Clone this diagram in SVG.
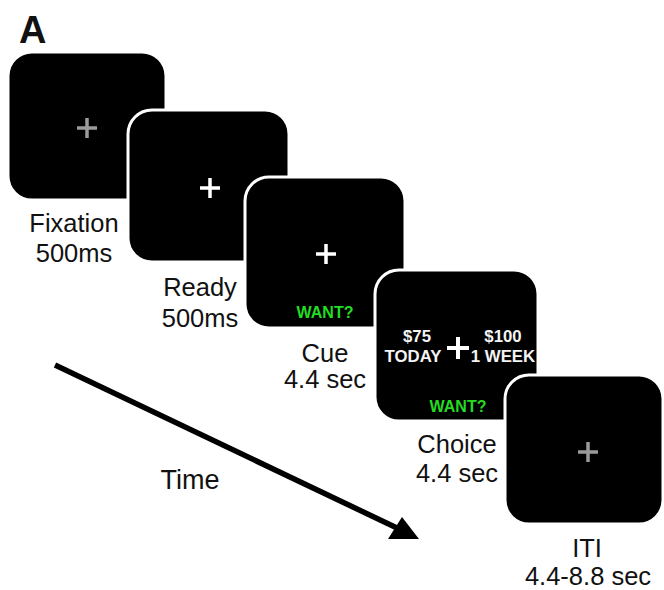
<svg xmlns="http://www.w3.org/2000/svg" width="664" height="590" viewBox="0 0 664 590">
<style>
.scr{fill:#000;stroke:#fff;stroke-width:3}
.lbl{font-family:"Liberation Sans",Arial,sans-serif;font-size:25.5px;fill:#111;text-anchor:middle}
.in{font-family:"Liberation Sans",Arial,sans-serif;font-size:16.8px;font-weight:bold;fill:#f4f4f4;text-anchor:middle}
.want{font-family:"Liberation Sans",Arial,sans-serif;font-size:16px;font-weight:bold;fill:#22dd22;text-anchor:middle}
.cg{stroke:#9a9a9a;stroke-width:3.5}
.cw{stroke:#fff;stroke-width:3.5}
</style>
<rect width="664" height="590" fill="#fff"/>
<text x="19" y="43" font-family="Liberation Sans,Arial,sans-serif" font-size="38" font-weight="bold" fill="#111">A</text>
<g id="fixation">
<rect class="scr" x="8" y="52" width="158" height="148" rx="24"/>
<path class="cg" d="M77 128H97M87 118V138"/>
<text class="lbl" x="74" y="232">Fixation</text>
<text class="lbl" x="74" y="262">500ms</text>
</g>
<g id="ready">
<rect class="scr" x="128" y="110" width="161" height="152" rx="24"/>
<path class="cw" d="M200 188H220M210 178V198"/>
<text class="lbl" x="200" y="296">Ready</text>
<text class="lbl" x="200" y="327">500ms</text>
</g>
<g id="cue">
<rect class="scr" x="245" y="177" width="160" height="151" rx="24"/>
<path class="cw" d="M316 254H336M326 244V264"/>
<text class="want" x="325" y="318">WANT?</text>
<text class="lbl" x="325" y="362">Cue</text>
<text class="lbl" x="325" y="388">4.4 sec</text>
</g>
<g id="choice">
<rect class="scr" x="375" y="270" width="163" height="151" rx="24"/>
<path class="cw" d="M447 348H469M458 337V359" style="stroke-width:4"/>
<text class="in" x="417" y="342">$75</text>
<text class="in" x="413" y="362">TODAY</text>
<text class="in" x="503" y="342">$100</text>
<text class="in" x="503" y="362">1 WEEK</text>
<text class="want" x="458" y="412">WANT?</text>
<text class="lbl" x="457" y="453">Choice</text>
<text class="lbl" x="457" y="482">4.4 sec</text>
</g>
<g id="iti">
<rect class="scr" x="505" y="375" width="158" height="149" rx="24"/>
<path class="cg" d="M578 452H598M588 442V462"/>
<text class="lbl" x="587" y="557">ITI</text>
<text class="lbl" x="588" y="585">4.4-8.8 sec</text>
</g>
<g id="connectors">
<line x1="55" y1="365" x2="397" y2="528" stroke="#000" stroke-width="5.5"/>
<polygon points="388,539 402,517 419,539" fill="#000"/>
<text class="lbl" x="190" y="489" style="font-size:27px">Time</text>
</g>
</svg>
